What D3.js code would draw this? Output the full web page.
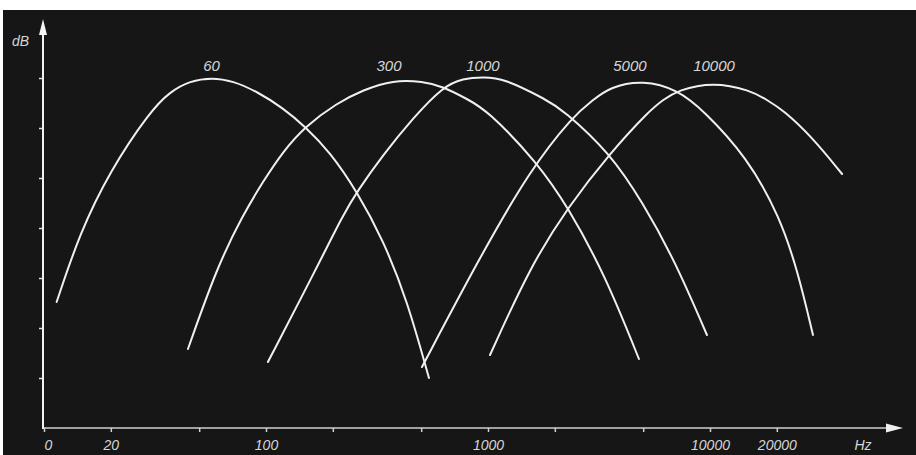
<!DOCTYPE html>
<html><head><meta charset="utf-8">
<script src="https://cdn.jsdelivr.net/npm/d3@7"></script>
<style>
body{margin:0;background:#fff;}
svg{display:block;}
text{font-family:"Liberation Sans",Arial,sans-serif;font-style:italic;fill:#d6d6d6;}
</style>
</head><body>
<svg id="chart" width="916" height="455"></svg>
<script>
// ---- data (frequency in Hz, level in dB) ----
const curveLabels = ["60", "300", "1000", "5000", "10000"];
const curve60 = [[11.4,25.2],[14.5,39],[19.8,51.4],[30,63.3],[37,67.3],[45.5,69.4],[56.9,70.1],[71,69.4],[91.1,67.3],[119.3,64],[150,60.3],[194.3,55.2],[257,47.3],[337,37.6],[432,25.6],[542,10]];
const curve300 = [[44.5,15.8],[60.2,32.2],[78.7,42.6],[97,49.3],[119.3,55.3],[150,60.3],[208.8,65],[273.5,67.6],[373.3,69.6],[509.6,69.3],[627,68.3],[804,65.8],[989,63.6],[1661,53.2],[2292,44.2],[3366,30.6],[4786,13.8]];
const curve1000 = [[102,13.2],[170,32.2],[222.3,42.6],[257,47.3],[336.5,54.6],[459.5,62],[627,68.3],[772,69.9],[949,70.2],[1169,70],[1844,65.6],[2177,63.6],[3546,55],[4990,45],[6953,33.4],[9690,18.6]];
const curve5000 = [[504,12.2],[920,34.2],[1546,51.6],[2415,62.4],[2971,65.6],[3546,68.2],[4990,69.6],[7178,67.6],[9296,63.6],[14680,54.2],[20660,42.2],[24900,31.2],[29100,18.6]];
const curve10000 = [[1021,14.6],[1546,32.2],[2292,44.2],[3546,55],[5368,63.6],[6140,65.6],[7178,67.6],[10320,69.2],[15140,67.6],[18070,65.6],[21330,63.6],[28800,58.2],[39350,50.8]];
const xTickValues = [10,20,50,100,200,500,1000,2000,5000,10000,20000];
const xTickLabels = ["0","20","","100","","","1000","","","10000","20000"];
const yTickValues = [10,20,30,40,50,60,70];
const xUnit = "Hz";
const yUnit = "dB";

// ---- drawing ----
const curves = [curve60, curve300, curve1000, curve5000, curve10000];
const labelDx = [0, -4, 0, -13, 1];

const svg = d3.select("#chart");
svg.append("rect").attr("x",3).attr("y",10).attr("width",913).attr("height",445).attr("fill","#161616");

const x = d3.scaleLog().domain([10, 100000]).range([44, 932]);
const y = d3.scaleLinear().domain([0, 80]).range([428, 28]);

// x axis
const xa = svg.append("g").attr("transform","translate(0,428)")
  .call(d3.axisBottom(x).tickValues(xTickValues).tickSize(4).tickPadding(8)
    .tickFormat((d,i)=>xTickLabels[i]));
xa.select(".domain").remove();
xa.selectAll(".tick line").attr("stroke","#cfcfcf").attr("stroke-width",1.5);
xa.selectAll(".tick text").attr("font-size",14).attr("fill","#d6d6d6")
  .attr("font-family","Liberation Sans, Arial, sans-serif").attr("font-style","italic")
  .attr("dx",(d,i)=> i===0 ? 4 : 0);
svg.append("line").attr("x1",43).attr("x2",890).attr("y1",428).attr("y2",428)
  .attr("stroke","#cfcfcf").attr("stroke-width",1.6);
svg.append("path").attr("d","M886,423.5L903,428L886,432.5Z").attr("fill","#f0f0f0");
svg.append("text").attr("x",863).attr("y",450).attr("text-anchor","middle").attr("font-size",14).text(xUnit);

// y axis
const ya = svg.append("g").attr("transform","translate(43,0)")
  .call(d3.axisLeft(y).tickValues(yTickValues).tickSize(4).tickFormat(""));
ya.select(".domain").remove();
ya.selectAll(".tick line").attr("stroke","#e0e0e0").attr("stroke-width",1.5);
svg.append("line").attr("x1",43).attr("x2",43).attr("y1",429).attr("y2",32)
  .attr("stroke","#f2f2f2").attr("stroke-width",2);
svg.append("path").attr("d","M39,35L43,19L47,35Z").attr("fill","#f5f5f5");
svg.append("text").attr("x",12).attr("y",46).attr("font-size",14).text(yUnit);

// curves
const line = d3.line().x(d=>x(d[0])).y(d=>y(d[1])).curve(d3.curveBasis);
svg.append("g").selectAll("path").data(curves).join("path")
  .attr("d",line).attr("fill","none").attr("stroke","#f0f0f0").attr("stroke-width",2)
  .attr("stroke-linecap","round");

// curve labels at peaks
svg.append("g").selectAll("text").data(curves).join("text")
  .attr("x",(d,i)=>{const p=d.reduce((a,b)=>b[1]>a[1]?b:a); return x(p[0])+labelDx[i];})
  .attr("y",71).attr("text-anchor","middle").attr("font-size",15)
  .text((d,i)=>curveLabels[i]);
</script>
</body></html>
